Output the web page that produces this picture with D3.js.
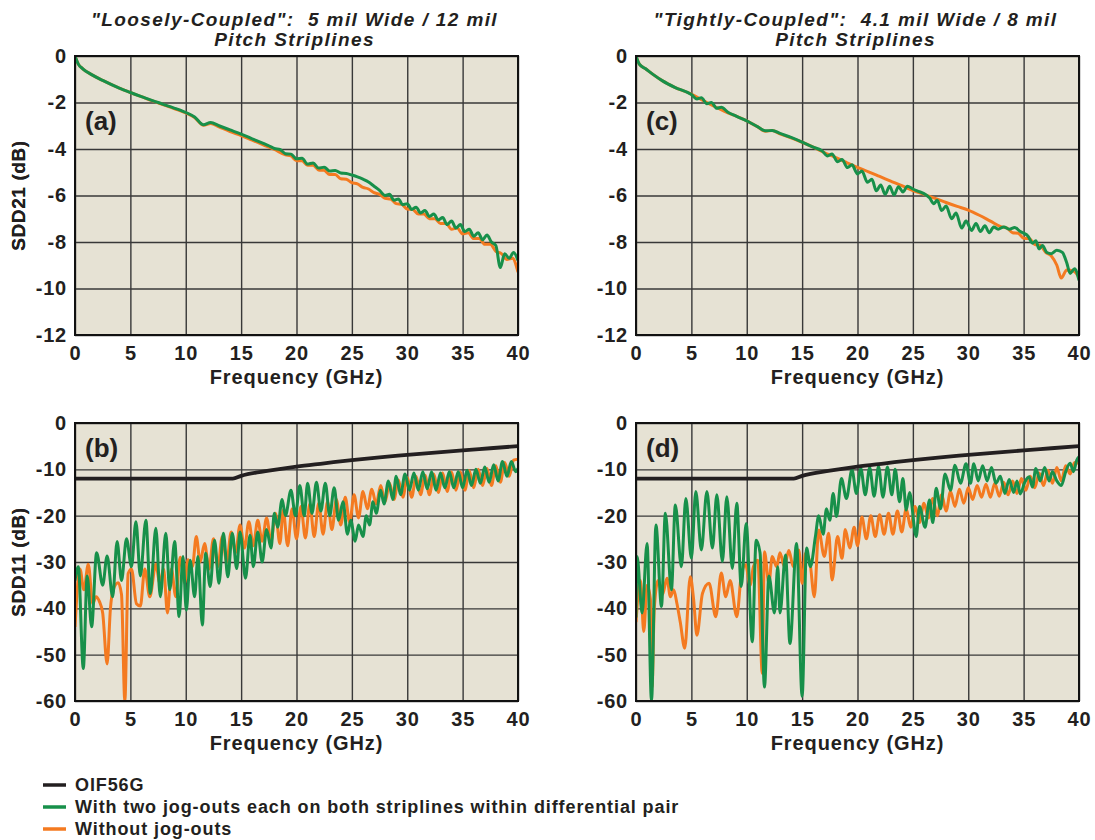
<!DOCTYPE html>
<html>
<head>
<meta charset="utf-8">
<script src="https://cdn.jsdelivr.net/npm/d3@7/dist/d3.min.js"></script>
<style>
  body { margin: 0; background: #fff; }
  text { font-family: "Liberation Sans", Arial, sans-serif; font-weight: bold; fill: #231f20; }
</style>
</head>
<body>
<svg id="chart" width="1095" height="840"></svg>
<script>
// ---- data ----
const freqTicks = [0, 5, 10, 15, 20, 25, 30, 35, 40];
const sdd21Ticks = [0, -2, -4, -6, -8, -10, -12];
const sdd11Ticks = [0, -10, -20, -30, -40, -50, -60];

const titleLoose = ['"Loosely-Coupled":  5 mil Wide / 12 mil', 'Pitch Striplines'];
const titleTight = ['"Tightly-Coupled":  4.1 mil Wide / 8 mil', 'Pitch Striplines'];

const legendNames = ['OIF56G', 'With two jog-outs each on both striplines within differential pair', 'Without jog-outs'];

// OIF56G return-loss mask [GHz, dB]
const oif56g = [[0,-12],[14.25,-12],[15,-11.4],[17.5,-10.3],[20,-9.4],[22.5,-8.7],[25,-8.0],[27.5,-7.4],
  [30,-6.9],[32.5,-6.4],[35,-5.9],[37.5,-5.45],[40,-5.0]];

// (a) loosely coupled SDD21
const aJog = [[0,0],[0.3,-0.35],[0.7,-0.55],[1.5,-0.8],[2.5,-1.05],[4,-1.38],[5,-1.57],[6,-1.75],[7,-1.92],
  [7.5,-2.0],[8.5,-2.17],[9.5,-2.33],[10,-2.43],[10.8,-2.62],[11.6,-2.96],[12.25,-2.86],[13,-3.0],[14,-3.18],
  [15,-3.36],[16,-3.56],[17,-3.76],[17.5,-3.86],[18,-3.98],[18.5,-4.02],[19,-4.2],[19.5,-4.22],[20,-4.42],
  [20.5,-4.4],[21,-4.65],[21.5,-4.6],[22,-4.82],[22.5,-4.78],[23,-4.95],[23.5,-4.92],[24,-5.03],[24.5,-5.05],
  [25,-5.12],[25.5,-5.2],[26,-5.3],[26.5,-5.42],[27,-5.6],[27.5,-5.78],[28,-6.0],[28.4,-5.95],[28.8,-6.2],
  [29.2,-6.15],[29.6,-6.4],[30,-6.35],[30.4,-6.6],[30.8,-6.5],[31.2,-6.75],[31.6,-6.65],[32,-6.9],[32.4,-6.8],
  [32.8,-7.05],[33.2,-6.95],[33.6,-7.25],[34,-7.1],[34.4,-7.4],[34.8,-7.25],[35.2,-7.55],[35.6,-7.45],[36,-7.75],
  [36.4,-7.6],[36.8,-7.9],[37.2,-7.7],[37.6,-8.0],[38,-8.15],[38.4,-9.1],[38.8,-8.5],[39.2,-8.7],[39.6,-8.45],[40,-8.8]];
const aNoJog = [[0,0],[0.3,-0.35],[0.7,-0.55],[1.5,-0.8],[2.5,-1.05],[4,-1.38],[5,-1.57],[6,-1.75],[7,-1.93],
  [8,-2.1],[9,-2.27],[10,-2.45],[10.8,-2.65],[11.6,-2.98],[12.25,-2.9],[13,-3.05],[14,-3.25],[15,-3.42],[16,-3.62],
  [17,-3.82],[18,-4.02],[19,-4.25],[19.5,-4.3],[20,-4.5],[20.5,-4.5],[21,-4.7],[21.5,-4.7],[22,-4.9],[22.5,-4.92],
  [23,-5.1],[23.5,-5.1],[24,-5.28],[24.5,-5.3],[25,-5.45],[25.5,-5.5],[26,-5.65],[26.5,-5.72],[27,-5.88],
  [27.5,-5.95],[28,-6.12],[28.5,-6.15],[29,-6.35],[29.5,-6.38],[30,-6.58],[30.5,-6.6],[31,-6.8],[31.5,-6.8],
  [32,-7.0],[32.5,-7.0],[33,-7.2],[33.5,-7.2],[34,-7.45],[34.5,-7.4],[35,-7.65],[35.5,-7.6],[36,-7.85],[36.5,-7.85],
  [37,-8.1],[37.5,-8.1],[38,-8.4],[38.5,-8.5],[39,-8.75],[39.5,-8.7],[40,-9.3]];

// (b) loosely coupled SDD11
const bJog = [[0,-34],[0.3,-31],[0.75,-53],[1.1,-33],[1.5,-44],[1.95,-28],[2.5,-35],[2.9,-28.7],[3.4,-37.5],
  [3.8,-25.6],[4.2,-34],[4.65,-25],[5.1,-31],[5.5,-21.3],[5.9,-33],[6.4,-21],[6.8,-36.8],[7.3,-22.7],[7.7,-37.5],
  [8.2,-23.8],[8.55,-36],[9.0,-25.6],[9.4,-41.8],[9.75,-28.8],[10.05,-40.4],[10.4,-29.6],[10.8,-37.5],[11.1,-28.8],
  [11.5,-43.6],[11.8,-28.1],[12.2,-35.3],[12.6,-25.3],[13,-34.6],[13.4,-23.8],[13.8,-33.2],[14.2,-23.8],[14.6,-31.4],
  [14.9,-23.5],[15.4,-33.5],[15.8,-24.2],[16.1,-31],[16.5,-23.5],[16.9,-30],[17.3,-23],[17.7,-27],[18.0,-19.5],
  [18.3,-22.5],[18.7,-16.5],[19.0,-20],[19.5,-14.5],[19.9,-20],[20.3,-13.5],[20.7,-20],[21.0,-13],[21.4,-19.5],
  [21.8,-12.8],[22.2,-19],[22.6,-13],[23.0,-20],[23.4,-14],[23.8,-21],[24.2,-17],[24.6,-24],[24.9,-21],[25.3,-25.5],
  [25.6,-22],[26.0,-24.5],[26.3,-20],[26.6,-22],[26.9,-17],[27.2,-19.5],[27.6,-14.5],[27.9,-17.5],[28.3,-12.5],
  [28.7,-16.5],[29.0,-11.5],[29.4,-15.5],[29.8,-11],[30.2,-14.5],[30.6,-10.8],[31.0,-14.5],[31.4,-10.5],[31.8,-14.2],
  [32.2,-10.5],[32.6,-14.5],[33.0,-10.8],[33.4,-14],[33.8,-10.5],[34.2,-14],[34.6,-10.5],[35.0,-14],[35.4,-10.2],
  [35.8,-13.5],[36.2,-10],[36.6,-13],[37.0,-9.5],[37.4,-12.8],[37.8,-9],[38.2,-12.5],[38.6,-8.3],[39.0,-11.5],
  [39.4,-8.3],[39.8,-10.5],[40,-9.8]];
const bNoJog = [[0,-44],[0.45,-31.5],[0.8,-36],[1.2,-30.5],[1.6,-39],[1.9,-37.5],[2.2,-38.5],[2.5,-41],[2.9,-52],
  [3.2,-40],[3.45,-36],[3.9,-34.5],[4.2,-37],[4.5,-60],[4.8,-32.5],[5.1,-31.5],[5.55,-39],[5.9,-39.5],[6.3,-31.5],
  [6.75,-37.5],[7.3,-30.5],[7.65,-34.5],[8.0,-31.5],[8.35,-41],[8.7,-31.5],[9.1,-37.5],[9.5,-29],[9.9,-34.5],
  [10.2,-29.5],[10.6,-31],[10.95,-24.5],[11.3,-30],[11.7,-26],[12.1,-31.5],[12.5,-25],[12.9,-31],[13.3,-24.5],
  [13.7,-30],[14.1,-23.5],[14.5,-28],[14.9,-22],[15.3,-27],[15.7,-21.3],[16.1,-26.5],[16.5,-21],[16.9,-25.5],
  [17.3,-20.5],[17.7,-25.5],[18.1,-19.5],[18.5,-26],[18.8,-18.8],[19.2,-26.5],[19.6,-18.5],[20.0,-25],[20.4,-18],
  [20.8,-24.8],[21.2,-17.5],[21.6,-24.5],[22.0,-17.3],[22.4,-24],[22.8,-17],[23.2,-23],[23.6,-16.5],[24.0,-22],
  [24.4,-16],[24.8,-21.5],[25.2,-15.5],[25.6,-20.5],[26.0,-14.8],[26.4,-18.5],[26.8,-14.3],[27.2,-17.5],[27.6,-13.5],
  [28.0,-17],[28.4,-13],[28.8,-16.5],[29.2,-12.3],[29.6,-16],[30.0,-11.8],[30.4,-16],[30.8,-11.5],[31.2,-15.5],
  [31.6,-11.3],[32.0,-15.5],[32.4,-11],[32.8,-15],[33.2,-10.8],[33.6,-14.8],[34.0,-10.6],[34.4,-14.5],[34.8,-10.5],
  [35.2,-14.5],[35.6,-10.3],[36.0,-14],[36.4,-10],[36.8,-13.5],[37.2,-9.8],[37.6,-13.5],[38.0,-9.2],[38.4,-12.8],
  [38.8,-8.5],[39.2,-11.5],[39.6,-8],[40,-7.8]];

// (c) tightly coupled SDD21
const cJog = [[0,0],[0.3,-0.35],[0.87,-0.55],[1.5,-0.78],[2.4,-1.07],[3.5,-1.35],[5,-1.66],[5.5,-1.85],[5.9,-1.8],
  [6.4,-2.05],[6.8,-2.0],[7.3,-2.25],[7.7,-2.2],[8.3,-2.42],[9,-2.58],[10,-2.79],[11,-3.05],[11.7,-3.22],[12.3,-3.2],
  [13,-3.33],[14,-3.5],[15,-3.7],[16,-3.92],[16.8,-4.08],[17.3,-4.3],[17.7,-4.22],[18.2,-4.55],[18.6,-4.45],
  [19.1,-4.8],[19.5,-4.68],[20,-5.07],[20.4,-4.95],[20.9,-5.43],[21.3,-5.3],[21.7,-5.8],[22.1,-5.55],[22.5,-5.95],
  [22.9,-5.6],[23.3,-5.98],[23.7,-5.62],[24.1,-5.85],[24.5,-5.6],[25,-5.72],[25.5,-5.82],[26,-5.92],[26.5,-6.1],
  [26.9,-6.35],[27.2,-6.2],[27.6,-6.65],[28,-6.45],[28.5,-7.0],[28.9,-6.75],[29.4,-7.4],[29.8,-7.1],[30.3,-7.5],
  [30.7,-7.2],[31.1,-7.55],[31.5,-7.3],[31.9,-7.6],[32.3,-7.35],[32.7,-7.45],[33.2,-7.35],[33.7,-7.45],[34.2,-7.38],
  [34.7,-7.55],[35,-7.62],[35.4,-7.75],[35.8,-8.05],[36.1,-7.95],[36.4,-8.3],[36.7,-8.15],[37.1,-8.45],[37.5,-8.5],
  [38,-8.35],[38.5,-8.45],[38.9,-8.9],[39.2,-9.35],[39.6,-9.15],[40,-9.65]];
const cNoJog = [[0,0],[0.3,-0.35],[0.87,-0.55],[1.5,-0.78],[2.4,-1.07],[3.5,-1.35],[5,-1.64],[6,-1.9],[7,-2.15],
  [8,-2.38],[9,-2.58],[10,-2.79],[11,-3.05],[11.7,-3.24],[12.3,-3.2],[13,-3.35],[14,-3.52],[15,-3.71],[16,-3.92],
  [17,-4.15],[18,-4.36],[19,-4.58],[20,-4.79],[21,-4.98],[22,-5.18],[23,-5.38],[24,-5.58],[25,-5.79],[26,-5.95],
  [27,-6.12],[28,-6.3],[29,-6.47],[30,-6.63],[31,-6.85],[32,-7.1],[33,-7.35],[33.5,-7.4],[34,-7.6],[34.5,-7.62],
  [35,-7.84],[35.5,-7.85],[36,-8.1],[36.5,-8.15],[37,-8.45],[37.5,-8.6],[38,-9.0],[38.4,-9.55],[38.9,-9.2],
  [39.5,-9.25],[40,-9.5]];

// (d) tightly coupled SDD11
const dJog = [[0,-42],[0.1,-28.8],[0.55,-41],[1.0,-26],[1.4,-60],[1.8,-22],[2.3,-39.6],[2.65,-19.5],[3.2,-36],
  [3.55,-17.7],[4.1,-31],[4.5,-16.3],[5.0,-29.2],[5.4,-14.8],[5.9,-27.4],[6.4,-14.8],[6.9,-27],[7.3,-15.5],
  [7.8,-29.9],[8.2,-15.9],[8.7,-31.4],[9.1,-17.3],[9.5,-35.3],[9.95,-21.7],[10.5,-47.2],[10.85,-25.3],[11.2,-28],
  [11.6,-57],[12.0,-33],[12.5,-41],[12.8,-31],[13.0,-41],[13.5,-28.5],[13.9,-47.6],[14.5,-26],[15.0,-59],
  [15.4,-27],[15.75,-31],[16.2,-24.5],[16.5,-20],[16.9,-24],[17.2,-18.5],[17.5,-21],[17.8,-15.2],[18.1,-20.2],
  [18.55,-12],[19.0,-16.3],[19.5,-10.1],[19.9,-15.2],[20.3,-9.8],[20.7,-15.5],[21.1,-9.6],[21.5,-15.8],[21.9,-9.4],
  [22.3,-16],[22.7,-9.5],[23.1,-15.5],[23.4,-10],[23.8,-17],[24.1,-12],[24.4,-18.8],[24.7,-15],[25.3,-24.5],
  [25.6,-18],[26.1,-22.5],[26.5,-16.6],[26.8,-21.5],[27.1,-14.1],[27.5,-18.5],[27.9,-11],[28.4,-14.5],[28.8,-9.1],
  [29.3,-13],[29.8,-8.8],[30.2,-13],[30.5,-8.8],[30.9,-12.5],[31.3,-9.2],[31.7,-12.5],[32.1,-9.6],[32.5,-13],
  [32.9,-11.5],[33.3,-15.2],[33.7,-12.2],[34.1,-15],[34.4,-12.5],[34.7,-15.3],[35.1,-12.8],[35.5,-11.6],[35.8,-13.8],
  [36.1,-9.8],[36.5,-12.5],[36.9,-9.6],[37.3,-12.5],[37.6,-10.5],[38.0,-12.5],[38.4,-13.5],[38.8,-10.5],[39.2,-8.7],
  [39.5,-10.5],[39.8,-8],[40,-7.3]];
const dNoJog = [[0,-43],[0.4,-34],[0.7,-45],[1.0,-35],[1.3,-38],[1.45,-57],[1.65,-40],[2.0,-34],[2.4,-37],
  [2.8,-33.5],[3.1,-37.5],[3.4,-36],[3.7,-39],[4.0,-43],[4.4,-48.6],[4.9,-33.2],[5.2,-38],[5.5,-45.8],[6.0,-36.8],
  [6.6,-34.6],[7.2,-41.8],[7.7,-32.4],[8.1,-37.5],[8.5,-34],[9.1,-41.8],[9.5,-33],[9.9,-30.6],[10.3,-35],[10.6,-31],
  [11.0,-29.6],[11.4,-54],[11.6,-27.8],[12.0,-34.6],[12.3,-28.8],[12.7,-31],[13.0,-28],[13.4,-31],[13.8,-27.5],
  [14.2,-31],[14.7,-27.4],[15.0,-34.6],[15.3,-28.1],[15.7,-30],[16.1,-37.5],[16.5,-23.1],[17.0,-28.8],[17.4,-23.8],
  [17.7,-33.9],[18.2,-24.5],[18.6,-29.2],[18.9,-23],[19.3,-27],[19.7,-22.5],[20.0,-26.5],[20.4,-20.3],[20.8,-25],
  [21.2,-20],[21.6,-24.5],[22.0,-19.8],[22.4,-24],[22.8,-19.5],[23.2,-24],[23.6,-19],[24.0,-23.5],[24.4,-18.5],
  [24.8,-22.5],[25.2,-18],[25.6,-21.5],[26.0,-17.3],[26.4,-20.5],[26.8,-16.3],[27.2,-20],[27.6,-15.5],[28.0,-19],
  [28.4,-14.8],[28.8,-18],[29.2,-14.3],[29.6,-17.3],[30.0,-14],[30.4,-16.5],[30.8,-13.5],[31.2,-16],[31.6,-13.2],
  [32.0,-16],[32.4,-13],[32.8,-15.8],[33.2,-12.8],[33.6,-15.5],[34.0,-12.5],[34.4,-15.2],[34.8,-12],[35.2,-14.5],
  [35.6,-11.5],[36.0,-14],[36.4,-10.8],[36.8,-13.5],[37.2,-10.2],[37.6,-13],[38.0,-9.6],[38.4,-12.5],[38.8,-9.2],
  [39.2,-11],[39.6,-8.5],[40,-8.7]];

const green = '#17904a';
const orange = '#f47a20';
const black = '#231f20';

const svg = d3.select('#chart');

const panels = [
  { id: 'a', x: 75, y: 56, w: 443, h: 279, yTicks: sdd21Ticks, yLabel: 'SDD21 (dB)', title: titleLoose,
    series: [{ d: aNoJog, c: orange }, { d: aJog, c: green }] },
  { id: 'c', x: 636, y: 56, w: 443, h: 279, yTicks: sdd21Ticks, yLabel: 'SDD21 (dB)', title: titleTight,
    series: [{ d: cNoJog, c: orange }, { d: cJog, c: green }] },
  { id: 'b', x: 75, y: 423, w: 443, h: 278, yTicks: sdd11Ticks, yLabel: 'SDD11 (dB)',
    series: [{ d: bNoJog, c: orange }, { d: bJog, c: green }, { d: oif56g, c: black, w: 3.8 }] },
  { id: 'd', x: 636, y: 423, w: 443, h: 278, yTicks: sdd11Ticks, yLabel: 'SDD11 (dB)',
    series: [{ d: dNoJog, c: orange }, { d: dJog, c: green }, { d: oif56g, c: black, w: 3.8 }] },
];

panels.forEach(p => {
  const g = svg.append('g').attr('transform', `translate(${p.x},${p.y})`);
  const x = d3.scaleLinear().domain([0, 40]).range([0, p.w]);
  const y = d3.scaleLinear().domain([d3.min(p.yTicks), 0]).range([p.h, 0]);

  g.append('rect').attr('width', p.w).attr('height', p.h).attr('fill', '#e6e2d4');

  // grid
  g.append('g').attr('class', 'grid')
    .call(d3.axisBottom(x).tickValues(freqTicks).tickSize(p.h).tickFormat(''))
    .call(s => s.select('.domain').remove())
    .selectAll('line').attr('stroke', '#383838').attr('stroke-width', 1.4);
  g.append('g').attr('class', 'grid')
    .call(d3.axisRight(y).tickValues(p.yTicks).tickSize(p.w).tickFormat(''))
    .call(s => s.select('.domain').remove())
    .selectAll('line').attr('stroke', '#383838').attr('stroke-width', 1.4);

  // tick labels (plain hyphen for minus, as in the original)
  g.append('g').attr('transform', `translate(0,${p.h})`)
    .call(d3.axisBottom(x).tickValues(freqTicks).tickSize(0).tickPadding(11).tickFormat(d => String(d)))
    .call(s => s.select('.domain').remove())
    .selectAll('text').style('font-size', '20px').style('letter-spacing', '0.8px').attr('fill', black);
  g.append('g')
    .call(d3.axisLeft(y).tickValues(p.yTicks).tickSize(0).tickPadding(8).tickFormat(d => String(d)))
    .call(s => s.select('.domain').remove())
    .selectAll('text').style('font-size', '20px').style('letter-spacing', '0.8px').attr('fill', black);

  const clipId = 'clip-' + p.id;
  g.append('clipPath').attr('id', clipId).append('rect').attr('width', p.w).attr('height', p.h + 1);

  const line = d3.line().x(d => x(d[0])).y(d => y(d[1])).curve(d3.curveMonotoneX);
  g.append('g').attr('clip-path', `url(#${clipId})`)
    .selectAll('path').data(p.series).join('path')
    .attr('d', s => line(s.d))
    .attr('fill', 'none')
    .attr('stroke', s => s.c)
    .attr('stroke-width', s => s.w || 3)
    .attr('stroke-linejoin', 'round');

  g.append('rect').attr('width', p.w).attr('height', p.h)
    .attr('fill', 'none').attr('stroke', '#111').attr('stroke-width', 2);

  g.append('text').attr('x', p.w / 2).attr('y', p.h + 49)
    .attr('text-anchor', 'middle').style('font-size', '20px').style('letter-spacing', '0.9px')
    .text('Frequency (GHz)');

  g.append('text').attr('transform', `translate(${18 - p.x},${p.h / 2}) rotate(-90)`)
    .attr('text-anchor', 'middle').attr('dy', '0.35em')
    .style('font-size', '19px').style('letter-spacing', '0.6px').text(p.yLabel);

  g.append('text').attr('x', 10).attr('y', p.id === 'a' || p.id === 'c' ? 74 : 34)
    .style('font-size', '26px').text('(' + p.id + ')');

  if (p.title) {
    g.selectAll('.title').data(p.title).join('text')
      .attr('x', p.w / 2 - 2).attr('y', (d, i) => -30 + i * 19.5)
      .attr('text-anchor', 'middle').style('font-size', '19px').style('font-style', 'italic')
      .style('letter-spacing', '1.4px')
      .attr('xml:space', 'preserve')
      .text(d => d);
  }
});

// legend
const legendColors = [black, green, orange];
const lg = svg.append('g').attr('transform', 'translate(43,785)');
lg.selectAll('line').data(legendNames).join('line')
  .attr('x1', 0).attr('x2', 23).attr('y1', (d, i) => i * 22).attr('y2', (d, i) => i * 22)
  .attr('stroke', (d, i) => legendColors[i]).attr('stroke-width', 3.5);
lg.selectAll('text').data(legendNames).join('text')
  .attr('x', 32).attr('y', (d, i) => i * 22).attr('dy', '0.35em')
  .style('font-size', '18px').style('letter-spacing', '0.9px').text(d => d);
</script>
</body>
</html>
